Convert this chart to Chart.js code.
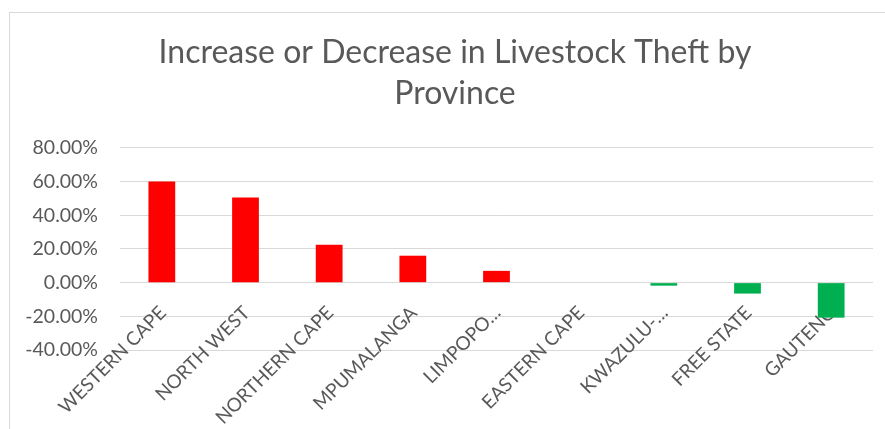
<!DOCTYPE html>
<html>
<head>
<meta charset="utf-8">
<script src="https://cdn.jsdelivr.net/npm/chart.js@4"></script>
<style>
    html, body { margin: 0; padding: 0; background: #fff; overflow: hidden; }
    #frame { position: absolute; left: 9px; top: 12px; width: 900px; height: 440px; border: 1px solid #d9d9d9; }
    #chart { position: absolute; left: 0; top: 0; }
</style>
</head>
<body>
<div id="frame"></div>
<canvas id="chart" width="885" height="429"></canvas>
<script>
// 数据
const provinces = ['WESTERN CAPE', 'NORTH WEST', 'NORTHERN CAPE', 'MPUMALANGA', 'LIMPOPO…',
    'EASTERN CAPE', 'KWAZULU-…', 'FREE STATE', 'GAUTENG'];
const changePct = [60.0, 50.5, 22.5, 16.0, 7.0, 0, -1.8, -6.5, -20.8];
const yTicks = [-40, -20, 0, 20, 40, 60, 80];

const textColor = '#595959';
const gridColor = '#d9d9d9';

// 正值红色，负值绿色
const barColors = changePct.map(v => v >= 0 ? '#ff0000' : '#00b050');

// 标题稍微右移，与原图居中位置一致
const titleShift = {
    id: 'titleShift',
    afterLayout(chart) {
        chart.titleBlock.left += 27;
    }
};

const ctx = document.getElementById('chart').getContext('2d');

new Chart(ctx, {
    type: 'bar',
    data: {
        labels: provinces,
        datasets: [{
            data: changePct,
            backgroundColor: barColors,
            borderWidth: 0,
            barPercentage: 0.32,
            categoryPercentage: 1
        }]
    },
    options: {
        responsive: false,
        animation: false,
        layout: { padding: { top: 12, left: 10, right: 12, bottom: 79 } },
        plugins: {
            legend: { display: false },
            tooltip: { enabled: false },
            title: {
                display: true,
                text: ['Increase or Decrease in Livestock Theft by', 'Province'],
                color: textColor,
                font: { family: 'Lato', size: 32, weight: 'normal', lineHeight: 1.28 },
                padding: { top: 20, bottom: 34 }
            }
        },
        scales: {
            x: {
                position: { y: 0 },
                z: 1,
                grid: { display: false, drawTicks: false },
                border: { display: false },
                ticks: {
                    color: textColor,
                    font: { family: 'Lato', size: 19 },
                    minRotation: 45,
                    maxRotation: 45,
                    autoSkip: false,
                    padding: 19,
                    labelOffset: 1
                }
            },
            y: {
                min: yTicks[0],
                max: yTicks[yTicks.length - 1],
                afterBuildTicks: scale => {
                    scale.ticks = yTicks.map(v => ({ value: v }));
                },
                afterFit: scale => { scale.width = 110; },
                grid: { color: gridColor, lineWidth: 1, drawTicks: false },
                border: { display: false },
                ticks: {
                    color: textColor,
                    font: { family: 'Lato', size: 19.5 },
                    padding: 22,
                    callback: v => v.toFixed(2) + '%'
                }
            }
        }
    },
    plugins: [titleShift]
});
</script>
</body>
</html>
